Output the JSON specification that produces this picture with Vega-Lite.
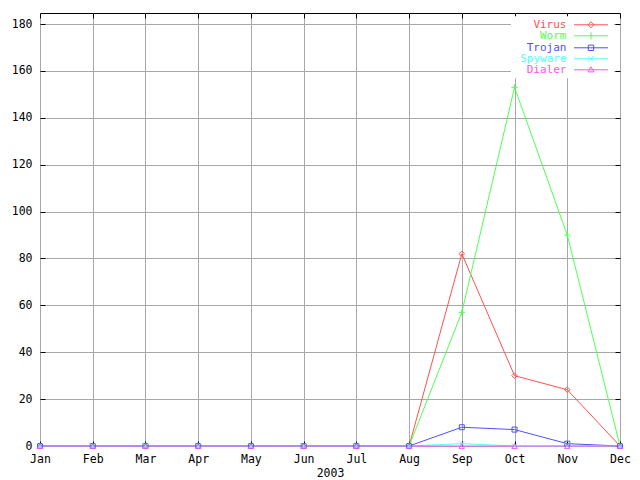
{
  "$schema": "https://vega.github.io/schema/vega-lite/v6.json",
  "width": 580,
  "height": 433,
  "autosize": {"type": "none"},
  "padding": {"left": 40, "top": 13, "right": 20, "bottom": 34},
  "background": "white",
  "config": {
    "font": "DejaVu Sans Mono",
    "view": {"stroke": "black", "strokeWidth": 1},
    "axis": {"labelFont": "DejaVu Sans Mono", "labelFontSize": 11.5, "labelColor": "black", "titleFont": "DejaVu Sans Mono", "titleFontSize": 11.5, "titleFontWeight": "normal", "titleColor": "black"}
  },
  "data": {"values": [
    {"m": "Jan", "s": "Virus", "v": 0}, {"m": "Feb", "s": "Virus", "v": 0}, {"m": "Mar", "s": "Virus", "v": 0}, {"m": "Apr", "s": "Virus", "v": 0}, {"m": "May", "s": "Virus", "v": 0}, {"m": "Jun", "s": "Virus", "v": 0}, {"m": "Jul", "s": "Virus", "v": 0}, {"m": "Aug", "s": "Virus", "v": 0}, {"m": "Sep", "s": "Virus", "v": 82}, {"m": "Oct", "s": "Virus", "v": 30}, {"m": "Nov", "s": "Virus", "v": 24}, {"m": "Dec", "s": "Virus", "v": 0},
    {"m": "Jan", "s": "Worm", "v": 0}, {"m": "Feb", "s": "Worm", "v": 0}, {"m": "Mar", "s": "Worm", "v": 0}, {"m": "Apr", "s": "Worm", "v": 0}, {"m": "May", "s": "Worm", "v": 0}, {"m": "Jun", "s": "Worm", "v": 0}, {"m": "Jul", "s": "Worm", "v": 0}, {"m": "Aug", "s": "Worm", "v": 0}, {"m": "Sep", "s": "Worm", "v": 57}, {"m": "Oct", "s": "Worm", "v": 153}, {"m": "Nov", "s": "Worm", "v": 90}, {"m": "Dec", "s": "Worm", "v": 0},
    {"m": "Jan", "s": "Trojan", "v": 0}, {"m": "Feb", "s": "Trojan", "v": 0}, {"m": "Mar", "s": "Trojan", "v": 0}, {"m": "Apr", "s": "Trojan", "v": 0}, {"m": "May", "s": "Trojan", "v": 0}, {"m": "Jun", "s": "Trojan", "v": 0}, {"m": "Jul", "s": "Trojan", "v": 0}, {"m": "Aug", "s": "Trojan", "v": 0}, {"m": "Sep", "s": "Trojan", "v": 8}, {"m": "Oct", "s": "Trojan", "v": 7}, {"m": "Nov", "s": "Trojan", "v": 1}, {"m": "Dec", "s": "Trojan", "v": 0},
    {"m": "Jan", "s": "Spyware", "v": 0}, {"m": "Feb", "s": "Spyware", "v": 0}, {"m": "Mar", "s": "Spyware", "v": 0}, {"m": "Apr", "s": "Spyware", "v": 0}, {"m": "May", "s": "Spyware", "v": 0}, {"m": "Jun", "s": "Spyware", "v": 0}, {"m": "Jul", "s": "Spyware", "v": 0}, {"m": "Aug", "s": "Spyware", "v": 0}, {"m": "Sep", "s": "Spyware", "v": 1}, {"m": "Oct", "s": "Spyware", "v": 0}, {"m": "Nov", "s": "Spyware", "v": 0}, {"m": "Dec", "s": "Spyware", "v": 0},
    {"m": "Jan", "s": "Dialer", "v": 0}, {"m": "Feb", "s": "Dialer", "v": 0}, {"m": "Mar", "s": "Dialer", "v": 0}, {"m": "Apr", "s": "Dialer", "v": 0}, {"m": "May", "s": "Dialer", "v": 0}, {"m": "Jun", "s": "Dialer", "v": 0}, {"m": "Jul", "s": "Dialer", "v": 0}, {"m": "Aug", "s": "Dialer", "v": 0}, {"m": "Sep", "s": "Dialer", "v": 0}, {"m": "Oct", "s": "Dialer", "v": 0}, {"m": "Nov", "s": "Dialer", "v": 0}, {"m": "Dec", "s": "Dialer", "v": 0}
  ]},
  "resolve": {"axis": {"x": "independent", "y": "independent"}},
  "encoding": {
    "x": {"field": "m", "type": "ordinal", "sort": ["Jan","Feb","Mar","Apr","May","Jun","Jul","Aug","Sep","Oct","Nov","Dec"], "scale": {"type": "point", "padding": 0}, "axis": null},
    "y": {"field": "v", "type": "quantitative", "scale": {"domain": [0, 184.7], "nice": false, "zero": true}, "axis": null},
    "color": {"field": "s", "type": "nominal", "sort": ["Virus","Worm","Trojan","Spyware","Dialer"],
              "scale": {"domain": ["Virus","Worm","Trojan","Spyware","Dialer"], "range": ["#ff5050","#50ff50","#5050ff","#50ffff","#ff50ff"]},
              "legend": {
                "title": null, "orient": "none", "legendX": 471, "legendY": 3.3, "padding": 3, "fillColor": "white", "strokeColor": null,
                "labelFont": "DejaVu Sans Mono", "labelFontSize": 11, "rowPadding": -2.5, "symbolSize": 36, "symbolStrokeWidth": 1,
                "encode": {
                  "symbols": {"update": {
                    "x": {"value": 77},
                    "size": {"value": 36},
                    "fill": {"value": "transparent"},
                    "stroke": {"scale": "color", "field": "value"},
                    "strokeWidth": {"value": 1},
                    "shape": {"signal": "datum.value === 'Virus' ? 'M-5.67,0H5.67M0,-1L1,0L0,1L-1,0Z' : datum.value === 'Worm' ? 'M-5.67,0H5.67M0,-1.2V1.2' : datum.value === 'Trojan' ? 'M-5.67,0H5.67M-0.9,-0.9H0.9V0.9H-0.9Z' : datum.value === 'Spyware' ? 'M-5.67,0H5.67M-0.9,-0.9L0.9,0.9M-0.9,0.9L0.9,-0.9' : 'M-5.67,0H5.67M0,-1L1,0.7H-1Z'"}
                  }},
                  "labels": {"update": {
                    "x": {"value": 52.5},
                    "align": {"value": "right"},
                    "fill": {"scale": "color", "field": "value"}
                  }}
                }
              }}
  },
  "layer": [
    {
      "mark": {"type": "line", "strokeWidth": 1, "interpolate": "linear"},
      "encoding": {
        "x": {"field": "m", "type": "ordinal", "sort": ["Jan","Feb","Mar","Apr","May","Jun","Jul","Aug","Sep","Oct","Nov","Dec"], "scale": {"type": "point", "padding": 0},
              "axis": {"title": "2003", "labelAngle": 0, "grid": true, "gridColor": "#a8a8a8", "gridWidth": 1, "domain": false, "tickColor": "black", "tickSize": -5, "labelPadding": 12, "titlePadding": 3}},
        "y": {"field": "v", "type": "quantitative",
              "axis": {"title": null, "values": [0,20,40,60,80,100,120,140,160,180], "grid": true, "gridColor": "#a8a8a8", "gridWidth": 1, "domain": false, "tickColor": "black", "tickSize": -5, "labelPadding": 13}}
      }
    },
    {
      "transform": [{"filter": "datum.s === 'Virus'"}],
      "mark": {"type": "point", "filled": false, "strokeWidth": 1, "size": 30, "opacity": 1, "shape": "diamond"}
    },
    {
      "transform": [{"filter": "datum.s === 'Worm'"}],
      "mark": {"type": "point", "filled": false, "strokeWidth": 1, "size": 40, "opacity": 1, "shape": "M-1,0H1M0,-1V1"}
    },
    {
      "transform": [{"filter": "datum.s === 'Trojan'"}],
      "mark": {"type": "point", "filled": false, "strokeWidth": 1, "size": 25, "opacity": 1, "shape": "square"}
    },
    {
      "transform": [{"filter": "datum.s === 'Spyware'"}],
      "mark": {"type": "point", "filled": false, "strokeWidth": 1, "size": 30, "opacity": 1, "shape": "M-1,-1L1,1M-1,1L1,-1"}
    },
    {
      "transform": [{"filter": "datum.s === 'Dialer'"}],
      "mark": {"type": "point", "filled": false, "strokeWidth": 1, "size": 30, "opacity": 1, "shape": "triangle-up"}
    },
    {
      "mark": {"type": "point", "opacity": 0},
      "encoding": {
        "color": {"value": "black"},
        "x": {"field": "m", "type": "ordinal", "sort": ["Jan","Feb","Mar","Apr","May","Jun","Jul","Aug","Sep","Oct","Nov","Dec"], "scale": {"type": "point", "padding": 0},
              "axis": {"orient": "top", "title": null, "labels": false, "grid": false, "domain": false, "tickColor": "black", "tickSize": -5}},
        "y": {"field": "v", "type": "quantitative",
              "axis": {"orient": "right", "title": null, "labels": false, "grid": false, "domain": false, "tickColor": "black", "tickSize": -5, "values": [0,20,40,60,80,100,120,140,160,180]}}
      }
    }
  ]
}
